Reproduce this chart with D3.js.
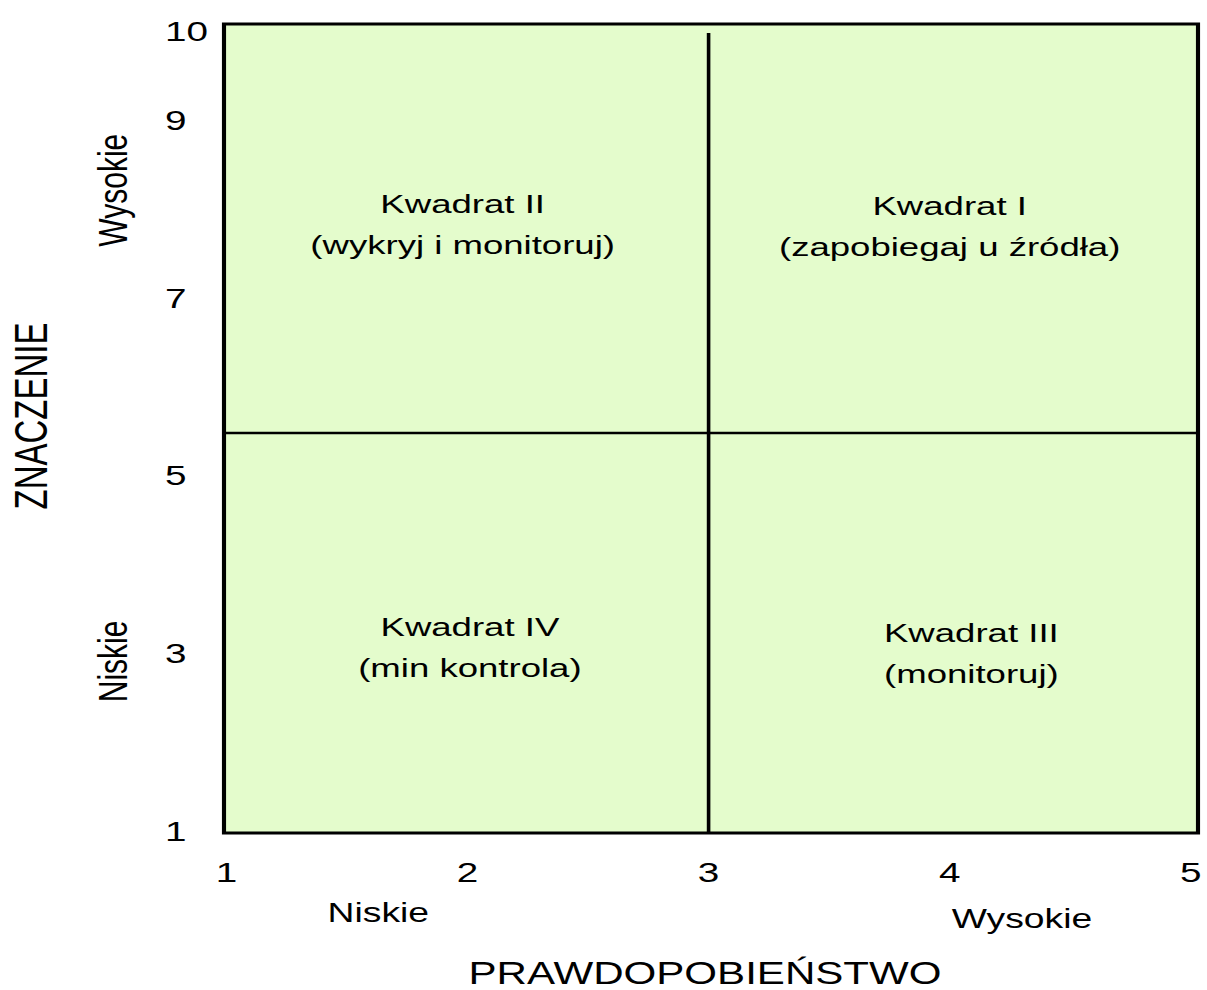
<!DOCTYPE html>
<html>
<head>
<meta charset="utf-8">
<script src="https://cdn.jsdelivr.net/npm/d3@7"></script>
<style>
  html, body { margin: 0; padding: 0; background: #fff; }
  svg { display: block; }
  text { font-family: "Liberation Sans", Arial, sans-serif; fill: #000; }
</style>
</head>
<body>
<svg id="svg"></svg>
<script>
// the source picture is stretched sideways, so we draw in a narrower
// box and let the viewBox widen it
var stretch = 1.38;
var width = 1207, height = 990;
var vwidth = width / stretch;

// frame of the plot in data units
var xExtent = [0.99, 5.03];
var yExtent = [1, 10.1];

var xTicks = [1, 2, 3, 4, 5];
var yTicks = [10, 9, 7, 5, 3, 1];

// divider lines
var xSplit = 3;
var ySplit = 5.5;

var xLevels = [["Niskie", 1.63], ["Wysokie", 4.3]];
var yLevels = [["Wysokie", 8.23], ["Niskie", 2.93]];

var quadNames = ["Kwadrat II", "Kwadrat I", "Kwadrat IV", "Kwadrat III"];
var quadSubs = ["(wykryj i monitoruj)", "(zapobiegaj u źródła)", "(min kontrola)", "(monitoruj)"];
var quadX = [1.98, 4.0, 2.01, 4.09];
var quadY = [7.85, 7.83, 3.09, 3.02];

var xTitle = "PRAWDOPOBIEŃSTWO";
var yTitle = "ZNACZENIE";

var container = d3.select("#svg")
    .attr("width", width)
    .attr("height", height)
    .attr("viewBox", "0 0 " + vwidth + " " + height)
    .attr("preserveAspectRatio", "none");

var x = d3.scaleLinear()
    .domain(xExtent)
    .range([224 / stretch, 1198 / stretch]);

var y = d3.scaleLinear()
    .domain(yExtent)
    .range([833, 24]);

var svg = container.append("g");

// plot area
svg.append("rect")
    .attr("x", x(xExtent[0]))
    .attr("y", y(yExtent[1]))
    .attr("width", x(xExtent[1]) - x(xExtent[0]))
    .attr("height", y(yExtent[0]) - y(yExtent[1]))
    .attr("fill", "#e4fccc")
    .attr("stroke", "#000")
    .attr("stroke-width", 3);

svg.append("line")
    .attr("x1", x(xSplit)).attr("x2", x(xSplit))
    .attr("y1", y(10)).attr("y2", y(yExtent[0]))
    .attr("stroke", "#000")
    .attr("stroke-width", 2.6);

svg.append("line")
    .attr("x1", x(xExtent[0])).attr("x2", x(xExtent[1]))
    .attr("y1", y(ySplit)).attr("y2", y(ySplit))
    .attr("stroke", "#000")
    .attr("stroke-width", 2.6);

// tick labels
svg.selectAll(".xtick")
    .data(xTicks)
    .enter().append("text")
    .attr("class", "xtick")
    .attr("text-anchor", "middle")
    .attr("font-size", 28)
    .attr("x", function(d) { return x(d); })
    .attr("y", 882)
    .text(function(d) { return d; });

svg.selectAll(".ytick")
    .data(yTicks)
    .enter().append("text")
    .attr("class", "ytick")
    .attr("font-size", 28)
    .attr("x", 165 / stretch)
    .attr("y", function(d) { return y(d) + 8; })
    .text(function(d) { return d; });

// low / high labels
svg.selectAll(".xlevel")
    .data(xLevels)
    .enter().append("text")
    .attr("class", "xlevel")
    .attr("text-anchor", "middle")
    .attr("font-size", 27)
    .attr("x", function(d) { return x(d[1]); })
    .attr("y", function(d, i) { return 922 + i * 6; })
    .text(function(d) { return d[0]; });

svg.selectAll(".ylevel")
    .data(yLevels)
    .enter().append("text")
    .attr("class", "ylevel")
    .attr("text-anchor", "middle")
    .attr("font-size", 30)
    .attr("transform", function(d) {
        return "translate(" + (127 / stretch) + "," + y(d[1]) + ") rotate(-90)";
    })
    .text(function(d) { return d[0]; });

// quadrant captions
quadNames.forEach(function(name, i) {
    var t = svg.append("text")
        .attr("text-anchor", "middle")
        .attr("font-size", 26.5)
        .attr("x", x(quadX[i]))
        .attr("y", y(quadY[i]) - 11);
    t.append("tspan")
        .attr("x", x(quadX[i]))
        .text(name);
    t.append("tspan")
        .attr("x", x(quadX[i]))
        .attr("dy", 41)
        .text(quadSubs[i]);
});

// axis titles
svg.append("text")
    .attr("text-anchor", "middle")
    .attr("font-size", 30.5)
    .attr("x", 705 / stretch)
    .attr("y", 984)
    .text(xTitle);

svg.append("text")
    .attr("text-anchor", "middle")
    .attr("font-size", 33)
    .attr("transform", "translate(" + (47 / stretch) + "," + 416 + ") rotate(-90)")
    .text(yTitle);
</script>
</body>
</html>
